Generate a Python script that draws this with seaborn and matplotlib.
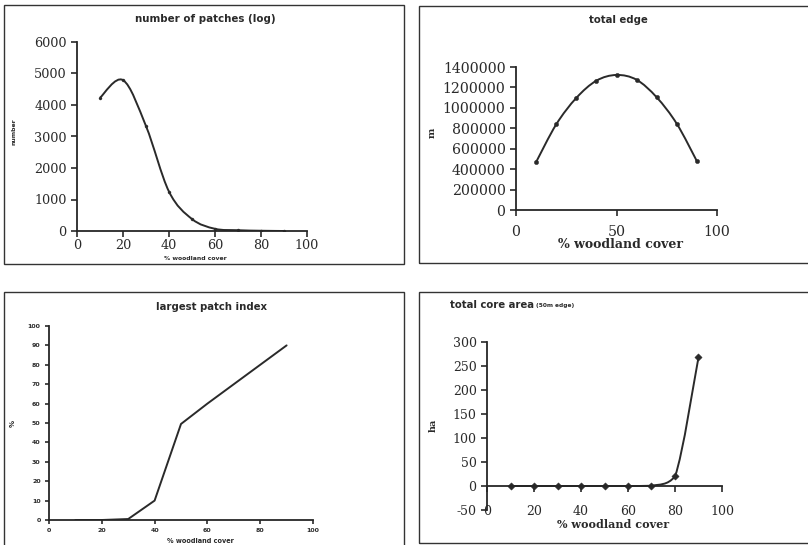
import numpy as np
import pandas as pd
import matplotlib
matplotlib.use('Agg')
import matplotlib.pyplot as plt
import seaborn as sns
from matplotlib.path import Path
from matplotlib.patches import PathPatch, Rectangle

# ---------------- data ----------------
cover = [10, 20, 30, 40, 50, 60, 70, 80, 90]

n_patches = [4230, 4790, 3330, 1250, 380, 70, 25, 8, 0]
total_edge = [469000, 838000, 1097000, 1266000, 1322000, 1275000, 1103000, 844000, 478000]
lpi = [0, 0, 0.5, 10, 49.5, 60, 70, 80, 90]
core_area = [0, 0, 0, 0, 0, 0, 0.5, 20, 268]

df = pd.DataFrame({'cover': cover, 'n_patches': n_patches, 'total_edge': total_edge,
                   'lpi': lpi, 'core_area': core_area})

sns.set_theme(style='white')
plt.rcParams['font.family'] = ['DejaVu Serif', 'Liberation Serif']
plt.rcParams['axes.linewidth'] = 1.3
plt.rcParams['axes.unicode_minus'] = False

W, H = 808, 545
fig = plt.figure(figsize=(W / 100, H / 100), dpi=100)
INK = '#2a2a2a'


def px_axes(x0, x1, ytop, ybot):
    # axes rect from pixel positions (top-left origin)
    return fig.add_axes([x0 / W, (H - ybot) / H, (x1 - x0) / W, (ybot - ytop) / H])


def smooth_line(ax, xs, ys, clamp=False, **kw):
    # excel style smoothed line (catmull-rom -> bezier)
    xs = np.asarray(xs, float)
    ys = np.asarray(ys, float)
    verts = [(xs[0], ys[0])]
    codes = [Path.MOVETO]
    n = len(xs)
    for i in range(n - 1):
        p0 = (xs[max(i - 1, 0)], ys[max(i - 1, 0)])
        p1 = (xs[i], ys[i])
        p2 = (xs[i + 1], ys[i + 1])
        p3 = (xs[min(i + 2, n - 1)], ys[min(i + 2, n - 1)])
        c1 = [p1[0] + (p2[0] - p0[0]) / 6, p1[1] + (p2[1] - p0[1]) / 6]
        c2 = [p2[0] - (p3[0] - p1[0]) / 6, p2[1] - (p3[1] - p1[1]) / 6]
        if clamp:
            lo, hi = min(p1[1], p2[1]), max(p1[1], p2[1])
            c1[1] = min(max(c1[1], lo), hi)
            c2[1] = min(max(c2[1], lo), hi)
        verts += [tuple(c1), tuple(c2), p2]
        codes += [Path.CURVE4] * 3
    ax.add_patch(PathPatch(Path(verts, codes), fill=False, **kw))


def excel_axes(ax):
    sns.despine(ax=ax)
    ax.tick_params(direction='out', length=4, width=1.2, colors=INK,
                   left=True, bottom=True)
    ax.grid(False)
    ax.set_xlabel('')
    ax.set_ylabel('')


def sans(x, y, s, size, **kw):
    fig.text(x / W, 1 - y / H, s, ha=kw.pop('ha', 'center'), va='center',
             fontsize=size, fontweight='bold', family='DejaVu Sans', color=INK, **kw)


def serif(x, y, s, size, **kw):
    fig.text(x / W, 1 - y / H, s, ha='center', va='center',
             fontsize=size, fontweight='bold', family='DejaVu Serif', color=INK, **kw)


# chart frames
for (x0, y0, x1, y1) in [(4, 5, 404, 264), (419, 6, 812, 263),
                         (4, 292, 404, 550), (419, 292, 812, 543)]:
    fig.patches.append(Rectangle((x0 / W, (H - y1) / H), (x1 - x0) / W, (y1 - y0) / H,
                                 transform=fig.transFigure, fill=False,
                                 edgecolor='#333333', linewidth=1.0))

line_kw = dict(color=INK, linewidth=1.4)

# ---------------- number of patches ----------------
ax1 = px_axes(77, 307, 42, 231)
smooth_line(ax1, df.cover, df.n_patches, **line_kw)
sns.scatterplot(data=df, x='cover', y='n_patches', ax=ax1, s=5, color=INK,
                edgecolor=None, marker='o')
ax1.set_xlim(0, 100)
ax1.set_ylim(0, 6000)
ax1.set_xticks(range(0, 101, 20))
ax1.set_yticks(range(0, 6001, 1000))
excel_axes(ax1)
ax1.tick_params(labelsize=9.2, labelcolor=INK)
ax1.tick_params(axis='x', pad=1.5)
sans(205, 19, 'number of patches (log)', 7.4)
sans(195, 258, '% woodland cover', 4.4)
sans(14, 132, 'number', 4.4, rotation=90)

# ---------------- total edge ----------------
ax2 = px_axes(516, 717, 67, 210)
smooth_line(ax2, df.cover, df.total_edge, **line_kw)
sns.scatterplot(data=df, x='cover', y='total_edge', ax=ax2, s=10, color=INK,
                edgecolor=None, marker='o')
ax2.set_xlim(0, 100)
ax2.set_ylim(0, 1400000)
ax2.set_xticks([0, 50, 100])
ax2.set_yticks(range(0, 1400001, 200000))
ax2.yaxis.set_major_formatter(matplotlib.ticker.FuncFormatter(lambda v, _: f'{int(v)}'))
excel_axes(ax2)
ax2.tick_params(labelsize=10.2, labelcolor=INK)
ax2.tick_params(axis='x', pad=6.5)
sans(618, 20, 'total edge', 7.3)
serif(620, 245, '% woodland cover', 9)
serif(432, 133, 'm', 7, rotation=90)

# ---------------- largest patch index ----------------
ax3 = px_axes(49, 313, 326, 520)
sns.lineplot(data=df, x='cover', y='lpi', ax=ax3, color=INK, linewidth=1.4)
ax3.set_xlim(0, 100)
ax3.set_ylim(0, 100)
ax3.set_xticks(range(0, 101, 20))
ax3.set_yticks(range(0, 101, 10))
excel_axes(ax3)
ax3.tick_params(labelsize=4.5, length=3, pad=3, labelcolor=INK)
for lab in ax3.get_xticklabels() + ax3.get_yticklabels():
    lab.set_family('DejaVu Sans')
    lab.set_fontweight('bold')
sans(211, 307, 'largest patch index', 7.3)
sans(200, 541, '% woodland cover', 4.7)
sans(13, 423, '%', 5, rotation=90)

# ---------------- total core area ----------------
ax4 = px_axes(487, 722, 342, 510)
smooth_line(ax4, df.cover, df.core_area, clamp=True, **line_kw)
sns.scatterplot(data=df, x='cover', y='core_area', ax=ax4, s=14, color=INK,
                edgecolor=None, marker='D')
ax4.set_xlim(0, 100)
ax4.set_ylim(-50, 300)
ax4.set_xticks(range(0, 101, 20))
ax4.set_yticks(range(-50, 301, 50))
excel_axes(ax4)
ax4.spines['bottom'].set_position(('data', 0))
ax4.tick_params(labelsize=9, labelcolor=INK)
ax4.tick_params(axis='x', pad=10)
sans(534, 305, 'total core area', 7.3, ha='right')
sans(536, 306, '(50m edge)', 4.2, ha='left')
serif(613, 524, '% woodland cover', 8)
serif(433, 425, 'ha', 7, rotation=90)

plt.savefig('out.png', dpi=100)
plt.close()
